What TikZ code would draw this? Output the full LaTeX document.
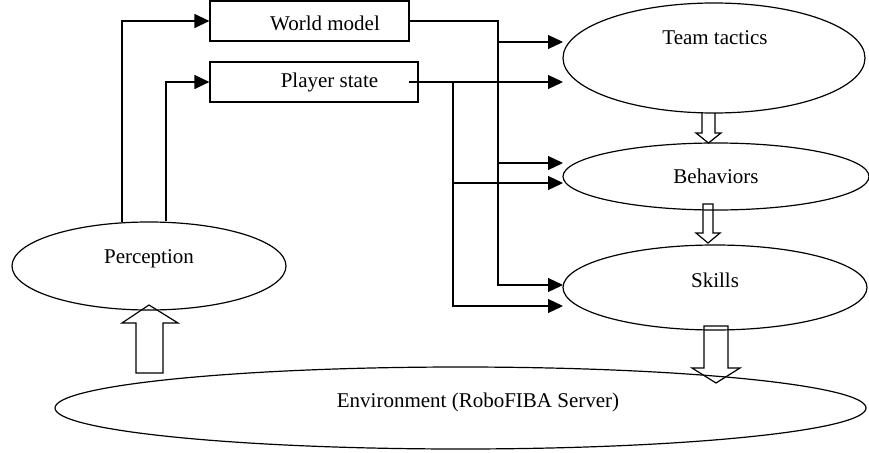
\documentclass[tikz,border=0pt]{standalone}
\usepackage{fontspec}
\setmainfont{Liberation Serif}
\usetikzlibrary{shapes.geometric,arrows.meta}
\begin{document}
\begin{tikzpicture}[x=1pt,y=-1pt,
  every node/.style={font=\fontsize{21}{25}\selectfont},
  lw/.style={line width=1.2pt},
  ell/.style={ellipse,draw,lw,inner sep=0pt},
  box/.style={draw,lw,inner sep=0pt},
  lbl/.style={inner sep=0pt},
  conn/.style={lw},
  arr/.style={lw,-{Triangle[length=15pt,width=14pt]}},
  blk/.style={lw,line join=miter}]
\useasboundingbox (0,0) rectangle (869,452);
% boxes
\node[box,minimum width=199pt,minimum height=40pt] (wm) at (309.5,21) {};
\node[lbl] (wmt) at (325,23) {World model};
\node[box,minimum width=208pt,minimum height=40pt] (ps) at (314,82) {};
\node[lbl] (pst) at (329.5,82) {Player state};
% ellipses
\node[ell,minimum width=274pt,minimum height=88pt] (perc) at (149,266) {};
\node[lbl] (perct) at (149,259) {Perception};
\node[ell,minimum width=811pt,minimum height=82pt] (env) at (460.5,408) {};
\node[lbl] (envt) at (478,402) {Environment (RoboFIBA Server)};
\node[ell,minimum width=302pt,minimum height=110pt] (tt) at (714,58) {};
\node[lbl] (ttt) at (715,38) {Team tactics};
\node[ell,minimum width=306pt,minimum height=67pt] (beh) at (716,176.5) {};
\node[lbl] (beht) at (716,176) {Behaviors};
\node[ell,minimum width=304pt,minimum height=85pt] (sk) at (715,287.5) {};
\node[lbl] (skt) at (715,280) {Skills};
% perception to boxes
\draw[arr] ([xshift=-27pt,yshift=-1pt]perc.north) |- (wm.west);
\draw[arr] ([xshift=17pt]perc.north) |- (ps.west);
% coordinates
\coordinate (wa) at (498,21);
\coordinate (w1) at (498,42);
\coordinate (w2) at (498,163);
\coordinate (pa) at (453,82);
\coordinate (p1) at (453,183);
\coordinate (ttin1) at (563,42);
\coordinate (ttin2) at (563,82);
\coordinate (behin1) at (563,163);
\coordinate (behin2) at (563,183);
\coordinate (skin1) at (563,285);
\coordinate (skin2) at (563,306);
% world model connectors
\draw[conn] (wm.east) -- (wa) -- (w1);
\draw[arr] (w1) -- (ttin1);
\draw[conn] (w1) -- (w2);
\draw[arr] (w2) -- (behin1);
\draw[arr] (w2) |- (skin1);
% player state connectors
\draw[arr] ([xshift=-10pt]ps.east) -- (ttin2);
\draw[conn] (pa) -- (p1);
\draw[arr] (p1) -- (behin2);
\draw[arr] (p1) |- (skin2);
% block arrows
\draw[blk] (702,113) -- (702,133) -- (696,133) -- (708.5,143) -- (721,133) -- (715,133) -- (715,113);
\draw[blk] (703,204) -- (703,233) -- (696,233) -- (708,243) -- (720,233) -- (713,233) -- (713,204) -- cycle;
\draw[blk] (704,326) -- (704,368) -- (692,368) -- (716,383) -- (740,368) -- (728,368) -- (728,326) -- cycle;
\draw[blk] (136,373) -- (136,323) -- (122,323) -- (149,305) -- (178,323) -- (163,323) -- (163,373) -- cycle;
\end{tikzpicture}
\end{document}
